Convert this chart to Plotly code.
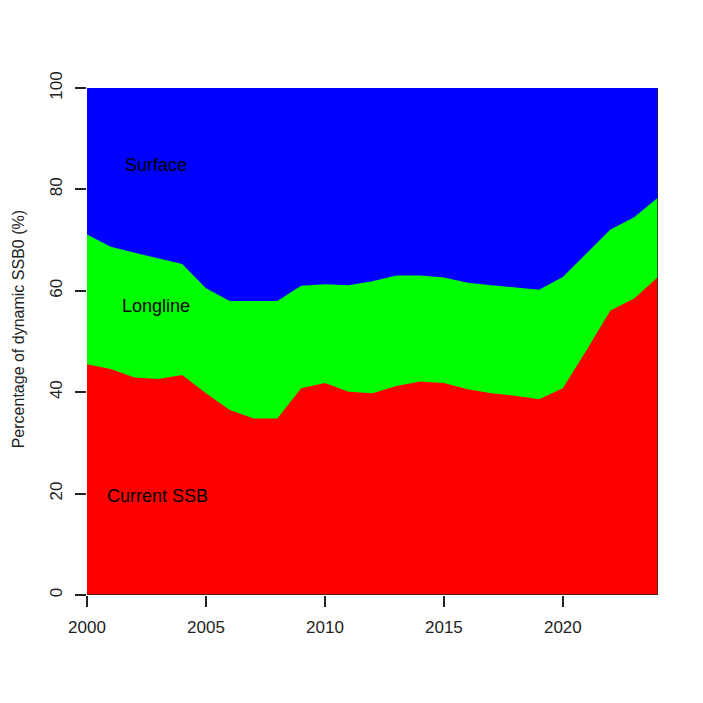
import plotly.graph_objects as go

# Years of the projection
years = [2000, 2001, 2002, 2003, 2004, 2005, 2006, 2007, 2008, 2009, 2010, 2011, 2012,
         2013, 2014, 2015, 2016, 2017, 2018, 2019, 2020, 2021, 2022, 2023, 2024]

# Current SSB as % of dynamic SSB0
current_ssb = [45.5, 44.6, 42.9, 42.6, 43.4, 39.8, 36.5, 34.8, 34.8, 40.8, 41.8, 40.1, 39.8,
               41.2, 42.1, 41.8, 40.6, 39.8, 39.3, 38.6, 40.8, 48.3, 56.1, 58.5, 62.7]

# Upper edge of longline impact (current SSB + longline)
longline_top = [71.1, 68.7, 67.5, 66.4, 65.3, 60.5, 58.0, 58.0, 58.0, 61.0, 61.3, 61.1, 61.9,
                63.0, 63.0, 62.6, 61.6, 61.1, 60.6, 60.2, 62.7, 67.4, 72.1, 74.5, 78.4]

# Surface impact fills the rest up to 100 %
surface_top = [100] * len(years)

labels = ["Surface", "Longline", "Current SSB"]
label_x = [2002.9, 2002.9, 2002.95]
label_y = [84.8, 57.1, 19.5]

y_title = "Percentage of dynamic SSB0 (%)"

fig = go.Figure()

# draw from the top layer down, each filled to zero
for y, col in [(surface_top, "#0000FF"), (longline_top, "#00FF00"), (current_ssb, "#FF0000")]:
    fig.add_trace(go.Scatter(
        x=years, y=y, mode="lines", fill="tozeroy",
        line=dict(width=0, color=col), fillcolor=col,
        hoverinfo="skip", showlegend=False
    ))

# polygon border showing along bottom and right edge
fig.add_trace(go.Scatter(
    x=[years[0], years[-1], years[-1]], y=[0, 0, 100],
    mode="lines", line=dict(color="#222222", width=1.5),
    hoverinfo="skip", showlegend=False
))

for txt, xx, yy in zip(labels, label_x, label_y):
    fig.add_annotation(x=xx, y=yy, text=txt, showarrow=False,
                       font=dict(size=18, color="black"))

# y axis title as a rotated annotation so it sits where the original has it
fig.add_annotation(xref="paper", yref="paper", x=-0.12, y=0.525,
                   xanchor="center", yanchor="middle",
                   text=y_title, textangle=-90, showarrow=False,
                   font=dict(size=16, color="#222222"))

# page body has an 8px margin, margins below allow for it
fig.update_layout(
    width=703, height=703,
    margin=dict(l=79, r=53, t=80, b=116),
    paper_bgcolor="white", plot_bgcolor="white",
    font=dict(family="Liberation Sans, Arial, sans-serif", size=17, color="#222222"),
    xaxis=dict(
        range=[2000, 2024], tickvals=[2000, 2005, 2010, 2015, 2020],
        showgrid=False, zeroline=False, showline=False,
        ticks="outside", ticklen=11, tickwidth=1.5, tickcolor="#222222",
        ticklabelstandoff=6, automargin=False
    ),
    yaxis=dict(
        range=[0, 100], tickvals=[0, 20, 40, 60, 80, 100],
        showgrid=False, zeroline=False, showline=False,
        ticks="outside", ticklen=11, tickwidth=1.5, tickcolor="#222222",
        tickangle=-90, ticklabelstandoff=6, automargin=False
    ),
)

fig.write_html("out.html")
